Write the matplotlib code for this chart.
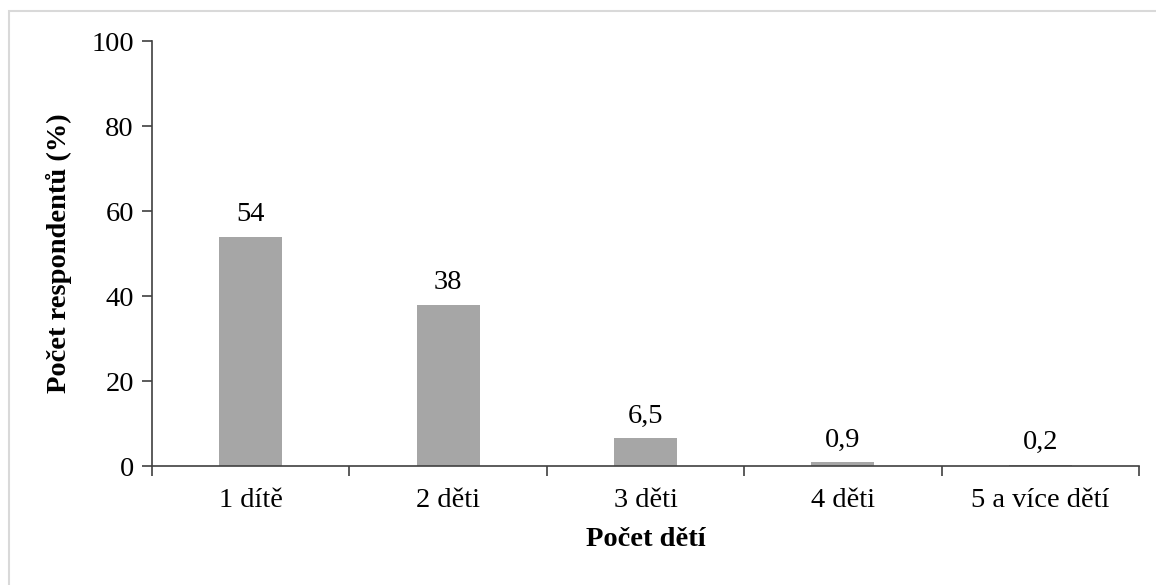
import matplotlib.pyplot as plt
from matplotlib.patches import Rectangle

categories = ["1 dítě", "2 děti", "3 děti", "4 děti", "5 a více dětí"]
values = [54, 38, 6.5, 0.9, 0.2]
value_labels = ["54", "38", "6,5", "0,9", "0,2"]
y_ticks = [0, 20, 40, 60, 80, 100]

plt.rcParams["font.family"] = ["Liberation Serif", "DejaVu Serif"]
FS = 20.5

fig = plt.figure(figsize=(11.56, 5.85), dpi=100)
ax = fig.add_axes([0.1315, 0.2034, 0.8538, 0.7265])

# light frame around the chart area
fig.patches.append(Rectangle((9 / 1156, -0.05), 1.2, 1 - 11 / 585 + 0.05,
                             transform=fig.transFigure, fill=False,
                             edgecolor="#d9d9d9", linewidth=1.5))

x = list(range(len(categories)))
ax.bar(x, values, width=0.32, color="#a6a6a6")
for xi, v, lab in zip(x, values, value_labels):
    ax.text(xi, v + 2.3, lab, ha="center", va="bottom", fontsize=FS)

ax.set_xlim(-0.5, len(categories) - 0.5)
ax.set_ylim(0, 100)
ax.set_yticks(y_ticks)
ax.set_yticklabels([str(t) for t in y_ticks], fontsize=FS)
ax.set_xticks([i + 0.5 for i in range(-1, len(categories))], minor=False)
ax.set_xticklabels([""] * (len(categories) + 1))
ax.set_xticks(x, minor=True)
ax.set_xticklabels(categories, minor=True, fontsize=FS)
ax.tick_params(axis="x", which="major", direction="out", length=7, width=1.2, color="#404040")
ax.tick_params(axis="x", which="minor", length=0, pad=16)
ax.tick_params(axis="y", direction="out", length=7, width=1.2, color="#404040", pad=6)

for side in ["top", "right"]:
    ax.spines[side].set_visible(False)
for side in ["left", "bottom"]:
    ax.spines[side].set_color("#404040")
    ax.spines[side].set_linewidth(1.2)

ax.set_xlabel("Počet dětí", fontsize=FS, fontweight="bold", labelpad=10)
ax.set_ylabel("Počet respondentů (%)", fontsize=FS, fontweight="bold", labelpad=14)

fig.savefig("out.png", dpi=100)
